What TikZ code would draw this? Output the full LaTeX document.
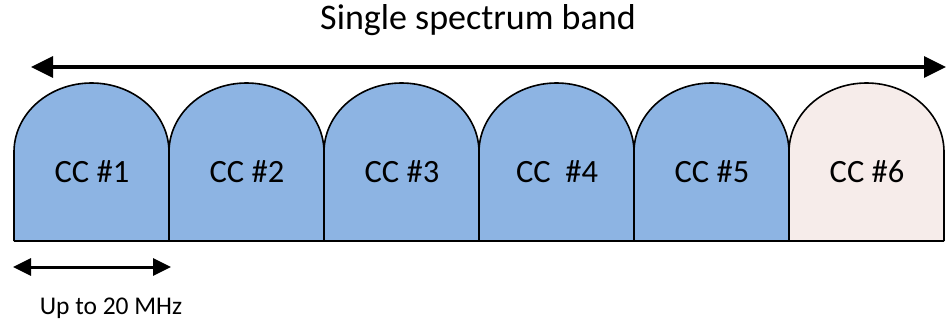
\documentclass[tikz,border=0pt]{standalone}
\usepackage{fontspec}
\setmainfont{Carlito}
\usetikzlibrary{arrows.meta}
\definecolor{ccblue}{RGB}{141,180,227}
\definecolor{ccpink}{RGB}{246,236,234}
\tikzset{
  ccshape/.style={draw=black, line width=1.6pt, line join=round},
  cclabel/.style={font=\fontsize{32.5}{32.5}\selectfont, inner sep=0pt, anchor=base},
  bigarrow/.style={line width=3.5pt, {Triangle[length=22pt,width=21pt]}-{Triangle[length=22pt,width=21pt]}},
  smallarrow/.style={line width=3pt, {Triangle[length=18pt,width=17pt]}-{Triangle[length=18pt,width=17pt]}},
}
\begin{document}
\begin{tikzpicture}[x=1pt,y=-1pt]
\useasboundingbox (0,0) rectangle (950,321);
\fill[white] (0,0) rectangle (950,321);
% carrier shapes
\foreach \i/\col in {0/ccblue,1/ccblue,2/ccblue,3/ccblue,4/ccblue,5/ccpink}{
  \pgfmathsetmacro{\L}{14+155*\i}
  \pgfmathsetmacro{\R}{\L+155}
  \fill[\col] (\L,241) -- (\L,152) arc[start angle=180,end angle=0,x radius=77.5,y radius=-69] -- (\R,241) -- cycle;
  \draw[ccshape] (\L,241) -- (\L,152) arc[start angle=180,end angle=0,x radius=77.5,y radius=-69] -- (\R,241);
}
\draw[ccshape] (14,241) -- (944,241);
\node[cclabel] (cc1) at (92,182) {CC \#1};
\node[cclabel] (cc2) at (247,182) {CC \#2};
\node[cclabel] (cc3) at (402,182) {CC \#3};
\node[cclabel] (cc4) at (557,182) {CC\ \ \#4};
\node[cclabel] (cc5) at (712,182) {CC \#5};
\node[cclabel] (cc6) at (867,182) {CC \#6};
% band arrow
\coordinate (bandL) at (31,67);
\coordinate (bandR) at (946,67);
\draw[bigarrow] (bandL) -- (bandR);
\node[font=\fontsize{36}{36}\selectfont, inner sep=0pt, anchor=base] (title) at (478,30) {Single spectrum band};
% width arrow
\coordinate (wL) at (13,267);
\coordinate (wR) at (171,267);
\draw[smallarrow] (wL) -- (wR);
\node[font=\fontsize{25.5}{25.5}\selectfont, inner sep=0pt, anchor=base] (width) at (111,314) {Up to 20 MHz};
\end{tikzpicture}
\end{document}
